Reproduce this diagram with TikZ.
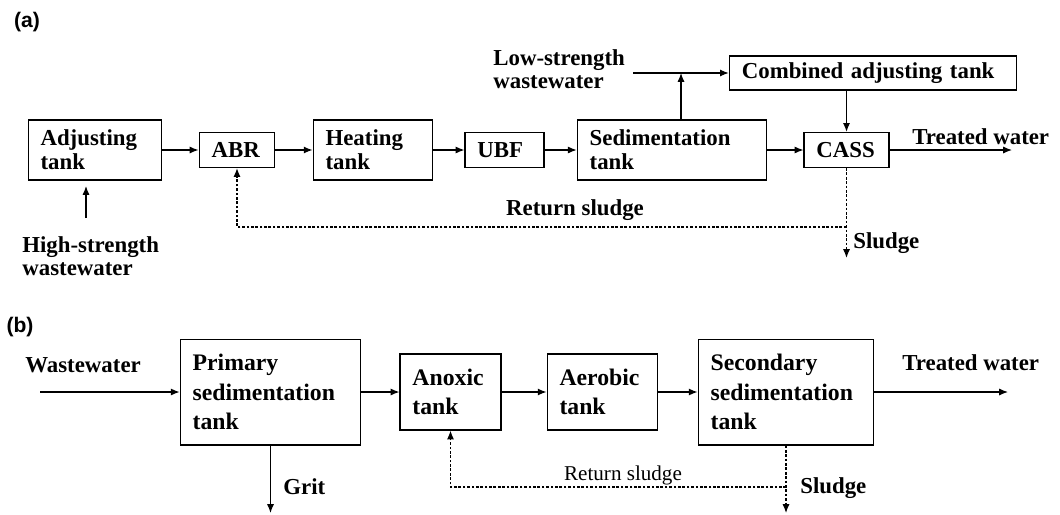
\documentclass[tikz,border=0pt]{standalone}
\usepackage{fontspec}
\setmainfont{Liberation Serif}
\newfontfamily\panelfont{Liberation Sans}
\usetikzlibrary{arrows.meta}

\tikzset{
  tank/.style={draw, line width=.8pt, align=left, inner xsep=7pt, inner ysep=0pt,
    font=\bfseries\fontsize{13}{13.6}\selectfont},
  tankb/.style={tank, font=\bfseries\fontsize{13.5}{16.7}\selectfont},
  lbl/.style={inner sep=0pt, align=left, font=\bfseries\fontsize{13}{13}\selectfont},
  panel/.style={inner sep=0pt, font=\panelfont\bfseries\fontsize{12}{12}\selectfont},
  flow/.style={-{Latex[length=5pt,width=4pt]}, line width=.7pt},
  back/.style={flow, dash pattern=on 1.5pt off 1pt},
}

\begin{document}
\begin{tikzpicture}
  [x=0.02cm,y=-0.02cm]
  \useasboundingbox (0,0) rectangle (1060,514);

  % (a)
  \node[panel] (pa) at (27,22) {(a)};

  \node[tank, text width=62pt, minimum height=34pt] (adj) at (95,150) {Adjusting\\tank};
  \node[tank, text width=29pt, minimum height=19.8pt] (abr) at (237,150) {ABR};
  \node[tank, text width=54pt, minimum height=34pt] (heat) at (373,150) {Heating\\tank};
  \node[tank, text width=30.8pt, minimum height=19.8pt] (ubf) at (504.5,150) {UBF};
  \node[tank, text width=93.7pt, minimum height=34pt] (sed) at (672,150) {Sedimentation\\tank};
  \node[tank, text width=34.2pt, minimum height=19.8pt] (cass) at (846.5,150) {CASS};
  \node[tank, text width=149.3pt, minimum height=19.3pt] (comb) at (873,73) {Combined adjusting tank};

  \node[lbl, anchor=west] (low) at (493,69) {Low-strength\\wastewater};
  \node[lbl, anchor=west] (high) at (22,256) {High-strength\\wastewater};
  \node[lbl] (retlblA) at (575,210) {Return sludge};
  \node[lbl, anchor=west] (sludA) at (853,243) {Sludge};
  \node[lbl, anchor=west] (treatA) at (912,137) {Treated water};

  \coordinate (lowin) at (633,73);
  \coordinate (join) at (681,73);
  \coordinate (highin) at (86,218);
  \coordinate (adjin) at (86,186);
  \coordinate (outA) at (1012,150);
  \coordinate (retA) at (846.5,227);
  \coordinate (endA) at (846.5,258);

\foreach \from/\to in {adj/abr,abr/heat,heat/ubf,ubf/sed,sed/cass}
    \draw[flow] (\from) -- (\to);
  \draw[flow] (lowin) -- (comb.west);
  \draw[flow] (join |- sed.north) -- (join);
  \draw[flow] (cass.north |- comb.south) -- (cass.north);
  \draw[flow] (highin) -- (adjin);
  \draw[flow] (cass) -- (outA);
  \draw[back] (cass.south) -- (endA);
  \draw[back] (retA) -| (abr.south);

  % (b)
  \node[panel] (pb) at (20,327) {(b)};

  \node[tankb, text width=88.6pt, minimum height=60.1pt] (prim) at (270.5,392) {Primary\\sedimentation\\tank};
  \node[tankb, text width=43.3pt, minimum height=43.1pt] (anox) at (450.5,392) {Anoxic\\tank};
  \node[tankb, text width=48.9pt, minimum height=43.1pt] (aer) at (602.5,392) {Aerobic\\tank};
  \node[tankb, text width=85.8pt, minimum height=60.1pt] (sec) at (786,392) {Secondary\\sedimentation\\tank};

  \node[lbl, anchor=west] (wwlbl) at (25,365) {Wastewater};
  \node[lbl, anchor=west] (treatB) at (902,363) {Treated water};
  \node[lbl, anchor=west] (grit) at (283,487) {Grit};
  \node[lbl, anchor=west] (sludB) at (800,488) {Sludge};
  \node[inner sep=0pt, font=\fontsize{12}{12}\selectfont] (retlblB) at (623,475) {Return sludge};

  \coordinate (win) at (40,392);
  \coordinate (outB) at (1008,392);
  \coordinate (gritend) at (270.5,513);
  \coordinate (retB) at (786,487);
  \coordinate (endB) at (786,513);

\foreach \from/\to in {win/prim,prim/anox,anox/aer,aer/sec,sec/outB}
    \draw[flow] (\from) -- (\to);
  \draw[flow] (prim.south) -- (gritend);
  \draw[back] (sec.south) -- (endB);
  \draw[back] (retB) -| (anox.south);

\end{tikzpicture}
\end{document}
